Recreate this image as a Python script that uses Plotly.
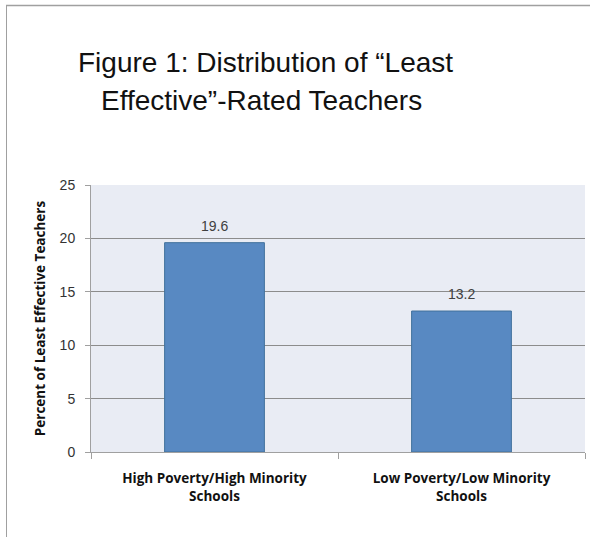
import plotly.graph_objects as go

categories = ["High Poverty/High Minority<br>Schools", "Low Poverty/Low Minority<br>Schools"]
values = [19.6, 13.2]
value_labels = ["19.6", "13.2"]
title_lines = ["Figure 1: Distribution of \u201cLeast", "Effective\u201d-Rated Teachers"]

W, H = 590, 537
L, R, T, B = 91, 5, 185, 85

fig = go.Figure()
fig.add_trace(go.Bar(
    x=categories, y=values, width=0.404,
    marker=dict(color="#5889C2", line=dict(color="#41719C", width=1)),
    hoverinfo="x+y",
))

pw = W - L - R
ph = H - T - B
def px2x(p):
    return (p - L) / pw
def py2y(p):
    return (H - B - p) / ph

annotations = []
for c, v, t in zip(categories, values, value_labels):
    annotations.append(dict(x=c, y=v, xref="x", yref="y", text=t, showarrow=False,
                            yanchor="middle", yshift=17,
                            font=dict(family="Liberation Sans, Arial", size=14, color="#404040")))
for line, cx, cy in zip(title_lines, [265, 261], [62, 100]):
    annotations.append(dict(x=px2x(cx), y=py2y(cy), xref="paper", yref="paper", text=line,
                            showarrow=False, xanchor="center", yanchor="middle",
                            font=dict(family="Liberation Sans, Arial", size=28, color="#111111")))

fig.update_layout(
    width=W, height=H,
    margin=dict(l=L, r=R, t=T, b=B),
    paper_bgcolor="white",
    plot_bgcolor="#E9ECF4",
    showlegend=False,
    annotations=annotations,
    xaxis=dict(
        type="category",
        showline=True, linecolor="#A0A0A0", linewidth=1,
        ticks="outside", tickson="boundaries", ticklen=6, tickcolor="#A0A0A0",
        ticklabelstandoff=14,
        tickfont=dict(family="Open Sans, Liberation Sans", size=13.5, color="#111111", weight="bold"),
        showgrid=False,
    ),
    yaxis=dict(
        range=[0, 25], dtick=5, tick0=0,
        showline=True, linecolor="#A0A0A0", linewidth=1,
        ticks="outside", ticklen=5, tickcolor="#A0A0A0",
        ticklabelstandoff=7,
        tickfont=dict(family="Liberation Sans, Arial", size=14, color="#333333"),
        showgrid=True, gridcolor="#8C8C8C", gridwidth=1,
        zeroline=False,
        title=dict(text="Percent of Least Effective Teachers",
                   font=dict(family="Open Sans, Liberation Sans", size=13.5, color="#111111", weight="bold"),
                   standoff=10),
    ),
    shapes=[
        dict(type="line", xref="paper", yref="paper",
             x0=px2x(6.5), x1=px2x(6.5), y0=py2y(5), y1=py2y(537), line=dict(color="#A0A0A0", width=1)),
        dict(type="line", xref="paper", yref="paper",
             x0=px2x(6), x1=px2x(590), y0=py2y(5.5), y1=py2y(5.5), line=dict(color="#A0A0A0", width=1.5)),
    ],
)

fig.write_html("out.html", config={"displayModeBar": False},
               post_script="document.body.style.margin='0';document.body.style.overflow='hidden';")
